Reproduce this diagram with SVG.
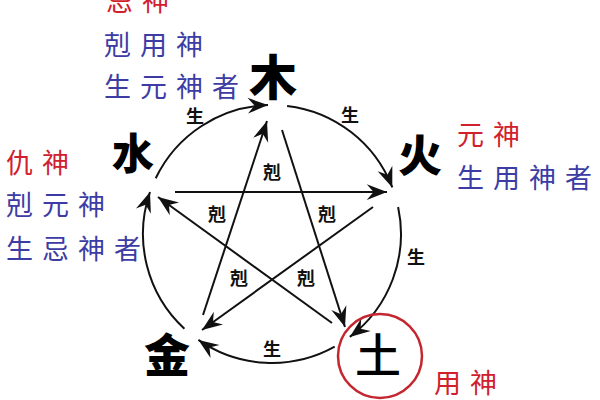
<svg xmlns="http://www.w3.org/2000/svg" width="600" height="400" viewBox="0 0 600 400">
<style>
.big{font-family:"Noto Sans CJK SC","Noto Sans CJK JP",sans-serif;font-weight:900;fill:#000;text-anchor:middle}
.lbl{font-family:"Noto Sans CJK SC","Noto Sans CJK JP",sans-serif;font-weight:700;font-size:18px;fill:#111;text-anchor:middle}
.note{font-family:"Noto Sans CJK SC","Noto Sans CJK JP",sans-serif;font-size:27px;letter-spacing:9px}
.red{fill:#d0202e}
.blue{fill:#3c3ca4}
.edge{fill:none;stroke:#111;stroke-width:2;marker-end:url(#ah)}
</style>
<defs>
<marker id="ah" markerUnits="userSpaceOnUse" markerWidth="22" markerHeight="18" viewBox="-18 -8 19 16" refX="0" refY="0" orient="auto">
<path d="M0,0 L-18,-7 L-12,0 L-18,7 Z" fill="#111"/>
</marker>
</defs>
<rect width="600" height="400" fill="#fff"/>
<g id="connectors">
<path class="edge" d="M155.7,178.3 A129,129 0 0 1 268,105.1"/>
<path class="edge" d="M287.1,105.9 A129,129 0 0 1 392.3,187.4"/>
<path class="edge" d="M398.1,207 A129,129 0 0 1 349.8,336.9"/>
<path class="edge" d="M334.7,346.7 A129,129 0 0 1 198.4,339.9"/>
<path class="edge" d="M184.4,328.7 A129,129 0 0 1 150,192"/>
<path class="edge" d="M175,192 L387,192"/>
<path class="edge" d="M373,207 L202,330"/>
<path class="edge" d="M203,315 L267,121"/>
<path class="edge" d="M282,130 L345,327"/>
<path class="edge" d="M332,323 L158,197"/>
<text class="lbl" x="195" y="123">生</text>
<text class="lbl" x="350" y="122">生</text>
<text class="lbl" x="416" y="264">生</text>
<text class="lbl" x="272" y="356">生</text>
<text class="lbl" x="272" y="179">剋</text>
<text class="lbl" x="217" y="221">剋</text>
<text class="lbl" x="327" y="221">剋</text>
<text class="lbl" x="239" y="285">剋</text>
<text class="lbl" x="306" y="285">剋</text>
</g>
<g id="wood"><text class="big" x="273" y="95" font-size="48">木</text></g>
<g id="water"><text class="big" x="133" y="169" font-size="42">水</text></g>
<g id="fire"><text class="big" x="420" y="172" font-size="44">火</text></g>
<g id="metal"><text class="big" x="167" y="372" font-size="46">金</text></g>
<g id="earth">
<circle cx="380" cy="356" r="42" fill="none" stroke="#c42630" stroke-width="2.5"/>
<text class="big" x="378" y="372" font-size="46" style="font-weight:500">土</text>
</g>
<g id="notes-wood">
<text class="note red" x="106" y="11">忌神</text>
<text class="note blue" x="104" y="55">剋用神</text>
<text class="note blue" x="104" y="97">生元神者</text>
</g>
<g id="notes-fire">
<text class="note red" x="457" y="145">元神</text>
<text class="note blue" x="457" y="188">生用神者</text>
</g>
<g id="notes-water">
<text class="note red" x="6" y="173">仇神</text>
<text class="note blue" x="6" y="215">剋元神</text>
<text class="note blue" x="6" y="259">生忌神者</text>
</g>
<g id="notes-earth">
<text class="note red" x="434" y="393">用神</text>
</g>
</svg>
